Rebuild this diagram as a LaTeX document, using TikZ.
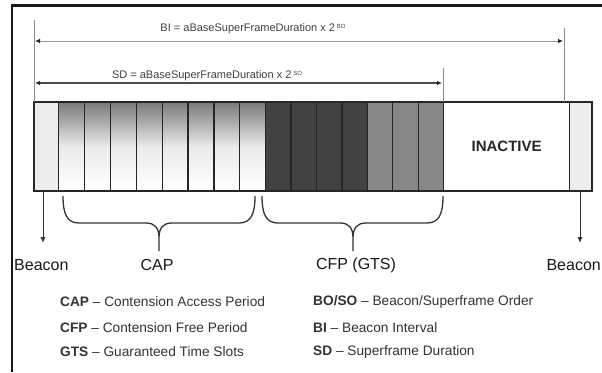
\documentclass[tikz,border=0pt]{standalone}
\usepackage{fontspec}
\setmainfont{Liberation Sans}
\usetikzlibrary{arrows.meta}
\newcommand{\mybrace}[3]{%
  \draw[bracestyle] (#1,196) .. controls (#1,214) and (#1+4,223) .. (#1+16,223)
    -- (#2-13,223) .. controls (#2-4,223) and (#2,228) .. (#2,238) -- (#2,251)
    (#2,238) .. controls (#2,228) and (#2+4,223) .. (#2+13,223)
    -- (#3-16,223) .. controls (#3-4,223) and (#3,214) .. (#3,196);}
\newcommand{\supsc}[1]{\raisebox{0.55ex}{\fontsize{6}{7}\selectfont #1}}
\begin{document}
\begin{tikzpicture}[x=1pt,y=-1pt,
  slotbox/.style={draw=black!85, line width=1.3pt, rectangle, inner sep=0pt,
    minimum height=88pt, anchor=north west},
  capfill/.style={top color=black!52, bottom color=white, middle color=black!8},
  dimline/.style={draw=black!40, line width=0.8pt,
    {Latex[length=5pt,width=4.5pt,black!85]}-{Latex[length=5pt,width=4.5pt,black!85]}},
  sdline/.style={dimline, draw=black!70, line width=1.1pt},
  ticksty/.style={draw=black!45, line width=0.8pt},
  lbl/.style={font=\fontsize{16}{19}\selectfont, text=black!90, inner sep=0pt},
  legend/.style={font=\fontsize{13.7}{16}\selectfont, text=black!80, anchor=west, inner sep=0pt},
  dimtext/.style={font=\fontsize{11}{13}\selectfont, text=black!75, inner sep=0pt},
  bracestyle/.style={draw=black!80, line width=1.3pt},
  pointer/.style={draw=black!80, line width=1pt, -{Latex[length=6pt,width=5pt]}}
]
\useasboundingbox[fill=white] (0,0) rectangle (602,372);
% frame
\draw[line width=3pt, black!90] (11,5.5) -- (602,5.5);
\draw[line width=2.5pt, black!90] (12,4) -- (12,372);

% slots
\node[slotbox, fill=black!7, minimum width=24pt] (bcnA) at (34,102) {};
\foreach \i in {0,...,7}
  \node[slotbox, capfill, minimum width=25.875pt] (cap\i) at ({58+25.875*\i},102) {};
\foreach \i in {0,...,3}
  \node[slotbox, fill=black!74, minimum width=25.43pt] (cfp\i) at ({265+25.43*\i},102) {};
\foreach \i in {4,...,6}
  \node[slotbox, fill=black!47, minimum width=25.43pt] (cfp\i) at ({265+25.43*\i},102) {};
\node[slotbox, fill=white, minimum width=126pt] (inact) at (443,102) {};
\node[slotbox, fill=black!7, minimum width=22pt] (bcnB) at (569,102) {};
\draw[line width=1.8pt, black!85] (bcnA.north west) rectangle (bcnB.south east);
\node[font=\bfseries\fontsize{15}{18}\selectfont, text=black!85] (inacttxt) at (inact.center) {INACTIVE};

% dimension lines
\coordinate (tL) at (34,20);
\coordinate (tBI) at (564,28);
\coordinate (tSD) at (443,68);
\draw[ticksty] (tL) -- (tL |- bcnA.north);
\draw[ticksty] (tBI) -- (tBI |- bcnA.north);
\draw[ticksty] (tSD) -- (inact.north west);
\coordinate (biL) at (35,41);
\coordinate (biR) at (563,41);
\coordinate (sdL) at (35,83);
\coordinate (sdR) at (442,83);
\draw[dimline] (biL) -- (biR);
\draw[sdline] (sdL) -- (sdR);
\node[dimtext] (bitxt) at (253,29) {BI = aBaseSuperFrameDuration x 2\,\supsc{BO}};
\node[dimtext] (sdtxt) at (207,76) {SD = aBaseSuperFrameDuration x 2\,\supsc{SO}};

% braces
\mybrace{63}{159}{255}
\mybrace{262}{353}{443}

% labels
\node[lbl, anchor=west] (lblA) at (14,265) {Beacon};
\node[lbl, anchor=east] (lblB) at (601,265) {Beacon};
\node[lbl] (lblcap) at (157,265) {CAP};
\node[lbl] (lblcfp) at (356,265) {CFP (GTS)};
\coordinate (arrA) at (43,243);
\coordinate (arrB) at (580,243);
\draw[pointer] (bcnA.south -| arrA) -- (arrA);
\draw[pointer] (bcnB.south -| arrB) -- (arrB);

% legend
\node[legend] (lg1) at (60,302) {\textbf{CAP} \textendash{} Contension Access Period};
\node[legend] (lg2) at (60,328) {\textbf{CFP} \textendash{} Contension Free Period};
\node[legend] (lg3) at (60,352) {\textbf{GTS} \textendash{} Guaranteed Time Slots};
\node[legend] (lg4) at (313,302) {\textbf{BO/SO} \textendash{} Beacon/Superframe Order};
\node[legend] (lg5) at (313,328) {\textbf{BI} \textendash{} Beacon Interval};
\node[legend] (lg6) at (313,352) {\textbf{SD} \textendash{} Superframe Duration};
\end{tikzpicture}
\end{document}
